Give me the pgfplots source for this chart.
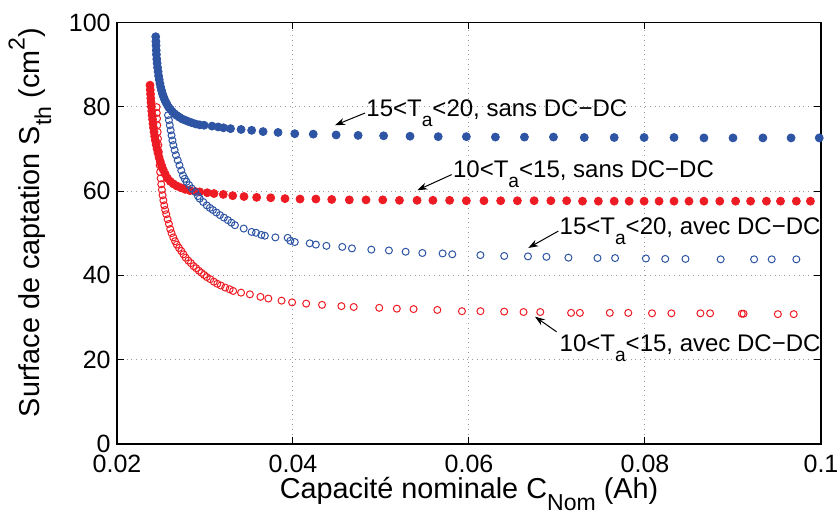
\documentclass[border=0pt]{standalone}
\usepackage{pgfplots}
\pgfplotsset{compat=1.18}
\usepackage{fontspec}
\setmainfont{Liberation Sans}
\usetikzlibrary{arrows.meta}
\definecolor{cblue}{RGB}{46,84,164}
\definecolor{cred}{RGB}{237,28,36}
\newcommand\sub[1]{\raisebox{-0.42em}{\scalebox{0.8}{#1}}}
\newcommand\super[1]{\raisebox{0.5em}{\scalebox{0.8}{#1}}}
\begin{document}
\begin{tikzpicture}
\begin{axis}[
  scale only axis, width=352pt, height=210.8pt,
  xmin=0.02, xmax=0.1, ymin=0, ymax=100,
  xtick={0.02,0.04,0.06,0.08,0.1}, xticklabels={0.02,0.04,0.06,0.08,0.1},
  ytick={0,20,40,60,80,100}, yticklabels={0,20,40,60,80,100},
  tick align=inside, xtick pos=both, ytick pos=both,
  major tick length=3.5pt,
  grid=major, grid style={dotted, gray!80, line width=0.5pt},
  axis line style={line width=0.7pt},
  every tick/.style={black, line width=0.5pt},
  ticklabel style={font=\fontsize{12.5}{14}\selectfont, inner sep=0pt},
  xticklabel style={anchor=north, yshift=-5.5pt},
  yticklabel style={anchor=east, xshift=-3pt},
  xlabel={Capacité nominale C\sub{Nom} (Ah)},
  ylabel={Surface de captation S\sub{th} (cm\super{2})},
  every axis x label/.style={at={(axis description cs:0.5,0)}, anchor=base, yshift=-27pt, font=\fontsize{14.4}{16}\selectfont, inner sep=0pt},
  every axis y label/.style={at={(axis description cs:-0.1236,0.525)}, anchor=center, rotate=90, font=\fontsize{14.4}{16}\selectfont, inner sep=0pt},
  clip=false,
]
\coordinate (sw) at (rel axis cs:0,0);
% 15<Ta<20 sans DC-DC (blue filled)
\addplot[only marks, mark=*, mark size=2pt, color=cblue, mark options={fill=cblue, draw=cblue}] coordinates {
(0.02440,96.6)(0.02442,95.5)(0.02444,94.5)(0.02446,93.4)(0.02448,92.4)(0.02452,91.3)(0.02456,90.3)
(0.02461,89.3)(0.02467,88.3)(0.02473,87.3)(0.02480,86.4)(0.02488,85.5)(0.02497,84.6)(0.02507,83.8)
(0.02518,83.0)(0.02530,82.3)(0.02543,81.6)(0.02557,81.0)(0.02572,80.4)(0.02590,79.8)(0.02610,79.3)
(0.02630,78.8)(0.02655,78.3)(0.02680,77.9)(0.02710,77.5)(0.02740,77.1)(0.02775,76.8)(0.02810,76.5)
(0.02850,76.2)(0.02895,75.9)(0.02940,75.7)(0.02990,75.6)(0.0308,75.4)(0.0315,75.2)(0.0321,75.0)
(0.0329,74.8)(0.0341,74.6)(0.0353,74.4)(0.0366,74.1)(0.0383,73.9)(0.0402,73.6)(0.0423,73.5)
(0.0449,73.3)(0.0474,73.2)(0.0503,73.1)(0.0533,73.0)(0.0565,72.9)(0.0597,72.9)(0.0630,72.8)
(0.0663,72.8)(0.0696,72.8)(0.0731,72.7)(0.0765,72.7)(0.0799,72.7)(0.0833,72.7)(0.0867,72.6)
(0.0900,72.6)(0.0934,72.6)(0.0966,72.6)(0.0998,72.6)
};
% 10<Ta<15 sans DC-DC (red filled)
\addplot[only marks, mark=*, mark size=2pt, color=cred, mark options={fill=cred, draw=cred}] coordinates {
(0.02375,85.1)(0.02378,84.0)(0.02381,83.0)(0.02384,82.0)(0.02387,81.0)(0.02391,80.0)(0.02395,79.0)
(0.02399,78.0)(0.02404,77.0)(0.02409,76.0)(0.02415,75.0)(0.02421,74.0)(0.02428,73.0)(0.02436,72.0)
(0.02445,71.0)(0.02455,70.0)(0.02466,69.0)(0.02478,68.0)(0.02492,67.0)(0.02508,66.0)(0.02526,65.0)
(0.02548,64.0)(0.02575,63.0)(0.02605,62.3)(0.02640,61.7)(0.02680,61.2)(0.02725,60.8)(0.02775,60.4)
(0.02830,60.1)(0.02890,59.9)(0.02940,59.8)(0.03026,59.6)(0.03102,59.4)(0.03208,59.2)(0.03315,58.9)
(0.03443,58.7)(0.03587,58.5)(0.03747,58.4)(0.03909,58.2)(0.0408,58.1)(0.0426,58.1)(0.0444,58.0)
(0.0464,57.9)(0.0483,57.9)(0.0502,57.9)(0.0521,57.8)(0.0541,57.8)(0.0559,57.8)(0.0578,57.8)
(0.0597,57.7)(0.0617,57.7)(0.0636,57.7)(0.0655,57.7)(0.0674,57.7)(0.0693,57.7)(0.0711,57.7)
(0.0729,57.6)(0.0747,57.6)(0.0765,57.6)(0.0782,57.6)(0.0799,57.6)(0.0816,57.6)(0.0833,57.6)
(0.0850,57.6)(0.0867,57.6)(0.0885,57.6)(0.0903,57.6)(0.0920,57.6)(0.0938,57.6)(0.0954,57.6)
(0.0972,57.6)(0.0988,57.6)
};
% 15<Ta<20 avec DC-DC (blue open)
\addplot[only marks, mark=o, mark size=1.75pt, color=cblue, mark options={line width=0.5pt}] coordinates {
(0.02580,78.0)(0.02590,76.8)(0.02600,75.6)(0.02610,74.4)(0.02620,73.2)(0.02630,72.0)(0.02640,70.9)
(0.02655,69.7)(0.02670,68.5)(0.02690,67.3)(0.02710,66.1)(0.02730,64.9)(0.02750,63.7)(0.02770,62.9)
(0.02790,62.2)(0.02820,61.4)(0.02850,60.6)(0.02890,59.8)(0.02920,58.8)(0.02940,58.2)(0.02980,57.4)
(0.03020,56.6)(0.03055,56.0)(0.03090,55.5)(0.03130,54.9)(0.03170,54.3)(0.03215,53.7)(0.03260,53.1)
(0.03300,52.5)(0.03340,51.9)(0.03440,51.1)(0.03530,50.3)(0.03580,50.1)(0.03640,49.6)(0.03680,49.4)
(0.03800,49.0)(0.03940,48.9)(0.03970,48.2)(0.04020,47.9)(0.04190,47.6)(0.04260,47.3)(0.04380,47.0)
(0.04560,46.75)(0.04670,46.4)(0.04890,46.1)(0.05090,45.9)(0.05280,45.6)(0.05470,45.3)(0.05700,45.2)
(0.05810,45.0)(0.06130,44.8)(0.06400,44.6)(0.06670,44.5)(0.06880,44.4)(0.07130,44.2)(0.07460,44.1)
(0.07660,44.1)(0.08010,44.0)(0.08230,43.9)(0.08460,43.9)(0.08860,43.8)(0.09240,43.8)(0.09440,43.8)
(0.09720,43.8)
};
% 10<Ta<15 avec DC-DC (red open)
\addplot[only marks, mark=o, mark size=1.75pt, color=cred, mark options={line width=0.5pt}] coordinates {
(0.02450,79.9)(0.02452,78.5)(0.02455,77.2)(0.02458,75.6)(0.02462,74.0)(0.02466,72.4)(0.02470,70.9)
(0.02475,69.3)(0.02480,67.7)(0.02485,66.1)(0.02490,64.5)(0.02496,63.0)(0.02503,61.6)(0.02510,60.3)
(0.02518,59.0)(0.02527,57.8)(0.02537,56.6)(0.02548,55.5)(0.02560,54.5)(0.02575,53.3)(0.02590,52.2)
(0.02605,51.0)(0.02620,50.0)(0.02640,49.0)(0.02660,48.1)(0.02680,47.3)(0.02705,46.5)(0.02730,45.8)
(0.02755,45.0)(0.02780,44.2)(0.02810,43.5)(0.02840,42.9)(0.02870,42.2)(0.02900,41.7)(0.02930,41.1)
(0.02960,40.6)(0.02990,40.1)(0.03020,39.6)(0.03060,39.1)(0.03100,38.5)(0.03140,38.0)(0.03180,37.6)
(0.03230,37.1)(0.03280,36.7)(0.03320,36.3)(0.03410,35.9)(0.03510,35.5)(0.03630,34.9)(0.03720,34.5)
(0.03870,34.0)(0.03990,33.6)(0.04150,33.3)(0.04330,33.0)(0.04550,32.7)(0.04690,32.5)(0.04980,32.3)
(0.05180,32.1)(0.05370,32.0)(0.05640,31.8)(0.05920,31.5)(0.06130,31.5)(0.06400,31.4)(0.06620,31.3)
(0.06810,31.3)(0.07160,31.1)(0.07260,31.1)(0.07600,31.1)(0.07810,31.1)(0.08080,31.0)(0.08300,31.0)
(0.08630,31.0)(0.08740,31.0)(0.09100,30.9)(0.09120,30.9)(0.09510,30.8)(0.09690,30.8)
};
% annotations
\begin{scope}[every node/.style={font=\fontsize{12.0}{14}\selectfont, inner sep=0pt, anchor=base west}]
\node at (axis cs:0.04830,77.7) {15<T\sub{a}<20, sans DC−DC};
\node at (axis cs:0.05815,63.3) {10<T\sub{a}<15, sans DC−DC};
\node at (axis cs:0.07026,49.8) {15<T\sub{a}<20, avec DC−DC};
\node at (axis cs:0.07026,21.9) {10<T\sub{a}<15, avec DC−DC};
\end{scope}
\begin{scope}[line width=0.5pt, -{Stealth[length=5pt, width=3.5pt]}]
\draw (axis cs:0.04818,78.5) -- (axis cs:0.04477,75.6);
\draw (axis cs:0.05803,63.9) -- (axis cs:0.05413,60.2);
\draw (axis cs:0.07015,50.5) -- (axis cs:0.06674,46.5);
\draw (axis cs:0.06996,26.6) -- (axis cs:0.06750,30.2);
\end{scope}
\end{axis}
\pgfresetboundingbox
\path (sw) +(-58.5pt,-34.5pt) rectangle +(360.5pt,222pt);
\end{tikzpicture}
\end{document}
